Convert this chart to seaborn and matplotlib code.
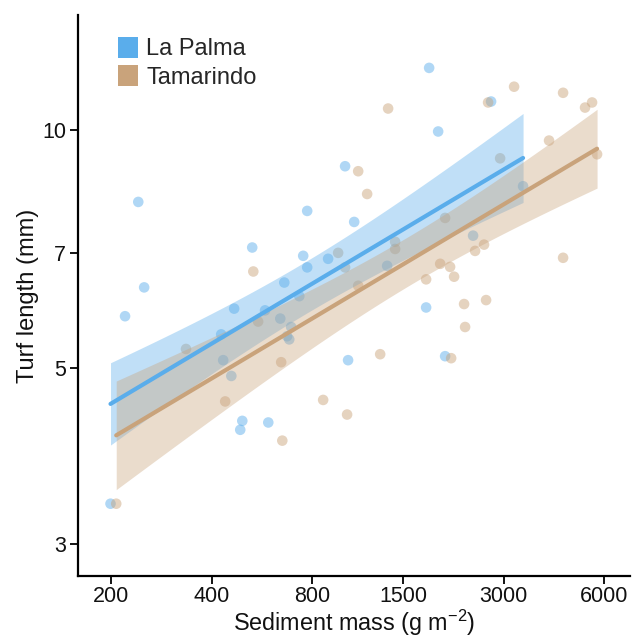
import numpy as np
import pandas as pd
import matplotlib
matplotlib.use("Agg")
import matplotlib.pyplot as plt
from matplotlib.patches import Patch
import seaborn as sns

# ---- data (sediment mass g m-2, turf length mm) ----
lapalma_sediment = [199, 220, 241, 251, 427, 433, 458, 467, 487, 494, 529, 578,
                    591, 642, 660, 673, 683, 692, 732, 752, 773, 773, 893, 1004,
                    1025, 1069, 1342, 1756, 1793, 1908, 2002, 2428, 2749, 3428]
lapalma_turf = [3.37, 5.82, 8.12, 6.33, 5.52, 5.12, 4.89, 5.95, 4.18, 4.29, 7.11, 5.92,
                4.27, 5.78, 6.42, 5.49, 5.44, 5.64, 6.17, 6.94, 6.71, 7.91, 6.88, 9.01,
                5.12, 7.66, 6.74, 5.97, 12.0, 9.97, 5.18, 7.36, 10.88, 8.50]

tamarindo_sediment = [207, 335, 439, 533, 551, 646, 651, 863, 957, 1004, 1018, 1099,
                      1099, 1169, 1279, 1351, 1418, 1418, 1756, 1935, 2002, 2072, 2087,
                      2130, 2282, 2298, 2462, 2619, 2656, 2693, 2926, 3222, 4101, 4518,
                      4518, 5257, 5518, 5712]
tamarindo_turf = [3.37, 5.29, 4.54, 6.63, 5.73, 5.09, 4.05, 4.56, 7.00, 6.71, 4.37, 8.88,
                  6.36, 8.31, 5.21, 10.66, 7.23, 7.08, 6.48, 6.78, 7.75, 6.72, 5.15,
                  6.53, 6.03, 5.64, 7.04, 7.17, 6.10, 10.85, 9.22, 11.36, 9.71, 11.16,
                  6.90, 10.69, 10.85, 9.33]

sites = ["La Palma", "Tamarindo"]
site_colors = {"La Palma": "#5AADEB", "Tamarindo": "#C9A37B"}

x_ticks = [200, 400, 800, 1500, 3000, 6000]
y_ticks = [3, 5, 7, 10]

df = pd.DataFrame({
    "sediment": lapalma_sediment + tamarindo_sediment,
    "turf": lapalma_turf + tamarindo_turf,
    "site": ["La Palma"] * len(lapalma_sediment) + ["Tamarindo"] * len(tamarindo_sediment),
})
df["log_sed"] = np.log10(df["sediment"])
df["log_turf"] = np.log10(df["turf"])

# ---- log-log ANCOVA fit: common slope, site-specific intercepts ----
is_tam = (df["site"] == "Tamarindo").astype(float).to_numpy()
X = np.column_stack([np.ones(len(df)), is_tam, df["log_sed"].to_numpy()])
yv = df["log_turf"].to_numpy()
beta, *_ = np.linalg.lstsq(X, yv, rcond=None)
resid = yv - X @ beta
dof = len(yv) - X.shape[1]
s2 = resid @ resid / dof
cov = s2 * np.linalg.inv(X.T @ X)
t_crit = 1.995  # two-sided 95 %, ~69 d.f.

fits = {}
for i, site in enumerate(sites):
    sub = df[df["site"] == site]
    g = np.linspace(sub["log_sed"].min(), sub["log_sed"].max(), 100)
    X0 = np.column_stack([np.ones_like(g), np.full_like(g, float(i)), g])
    pred = X0 @ beta
    se = np.sqrt(np.einsum("ij,jk,ik->i", X0, cov, X0))
    fits[site] = pd.DataFrame({"x": g, "y": pred, "lo": pred - t_crit * se,
                               "hi": pred + t_crit * se})

# ---- style ----
sns.set_theme(style="ticks")
plt.rcParams["font.family"] = ["Liberation Sans", "DejaVu Sans"]
plt.rcParams["mathtext.fontset"] = "custom"
plt.rcParams["mathtext.rm"] = "Liberation Sans"
plt.rcParams["mathtext.it"] = "Liberation Sans:italic"

fig = plt.figure(figsize=(6.33, 6.38), dpi=100)
ax = fig.add_axes([0.1232, 0.0972, 0.8721, 0.8793])

sns.scatterplot(data=df, x="log_sed", y="log_turf", hue="site", palette=site_colors,
                hue_order=sites, s=58, alpha=0.48, edgecolor="none", legend=False,
                ax=ax, zorder=1)
for site in sites:
    f = fits[site]
    ax.fill_between(f["x"], f["lo"], f["hi"], color=site_colors[site], alpha=0.38,
                    linewidth=0, zorder=2)
for site in sites:
    f = fits[site]
    sns.lineplot(data=f, x="x", y="y", color=site_colors[site], linewidth=3.0,
                 solid_capstyle="round", ax=ax, zorder=3)

ax.set_xlim(np.log10(159), np.log10(7170))
ax.set_ylim(np.log10(2.73), np.log10(14.0))
ax.set_xticks(np.log10(x_ticks))
ax.set_xticklabels([str(v) for v in x_ticks])
ax.set_yticks(np.log10(y_ticks))
ax.set_yticklabels([str(v) for v in y_ticks])

ax.tick_params(axis="both", labelsize=15.5, length=6, width=1.3, color="black",
               labelcolor="#111111", pad=2.5)
ax.tick_params(axis="x", pad=1.5)
for side in ["left", "bottom"]:
    ax.spines[side].set_linewidth(1.6)
    ax.spines[side].set_color("black")
sns.despine(ax=ax)

ax.set_xlabel("Sediment mass (g m$^{-2}$)", fontsize=16.8, labelpad=0, color="#111111")
ax.set_ylabel("Turf length (mm)", fontsize=17, labelpad=2, color="#111111")

handles = [Patch(facecolor=site_colors[s], edgecolor="none", label=s) for s in sites]
ax.legend(handles=handles, loc="upper left", bbox_to_anchor=(0.055, 0.978), frameon=False,
          fontsize=17, handlelength=0.85, handleheight=1.0, handletextpad=0.35,
          labelspacing=0.2, borderaxespad=0.0)

fig.savefig("out.png", dpi=100)
